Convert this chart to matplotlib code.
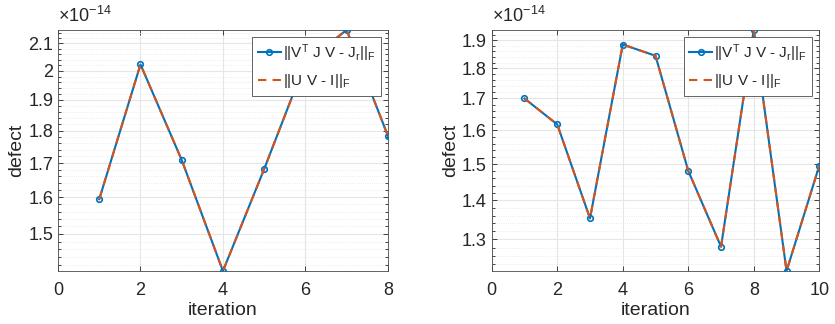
import numpy as np
import matplotlib.pyplot as plt
from matplotlib.ticker import FixedLocator, FuncFormatter, NullFormatter

plt.rcParams['font.family'] = ['Liberation Sans', 'DejaVu Sans']
plt.rcParams['mathtext.default'] = 'regular'

# defect values, in units of 1e-14
iter_a = [1, 2, 3, 4, 5, 6, 7, 8]
defect_a = [1.595, 2.023, 1.709, 1.405, 1.682, 2.03, 2.150, 1.784]
iter_b = [1, 2, 3, 4, 5, 6, 7, 8, 9, 10]
defect_b = [1.700, 1.618, 1.353, 1.884, 1.844, 1.481, 1.282, 1.937, 1.224, 1.496]

yticks_a = [1.5, 1.6, 1.7, 1.8, 1.9, 2.0, 2.1]
yticks_b = [1.3, 1.4, 1.5, 1.6, 1.7, 1.8, 1.9]
xticks_a = [0, 2, 4, 6, 8]
xticks_b = [0, 2, 4, 6, 8, 10]

label1 = '||V$^{T}$ J V - J$_{r}$||$_{F}$'
label2 = '||U V - I||$_{F}$'

blue = '#0072BD'
orange = '#D95319'
txt = '#262626'

fig = plt.figure(figsize=(8.35, 3.24), dpi=100)
ax1 = fig.add_axes([0.0695, 0.1636, 0.395, 0.744])
ax2 = fig.add_axes([0.5889, 0.1636, 0.3923, 0.744])

panels = [
    (ax1, iter_a, defect_a, xticks_a, yticks_a, 8),
    (ax2, iter_b, defect_b, xticks_b, yticks_b, 10),
]

for ax, x, y, xt, yt, xmax in panels:
    ax.plot(x, y, '-o', color=blue, lw=1.5, ms=4, mfc='none', mew=1.2,
            label=label1, zorder=3)
    ax.plot(x, y, '--', color=orange, lw=1.5, dashes=(4, 3),
            label=label2, zorder=4)
    ax.set_yscale('log')
    ax.set_xlim(0, xmax)
    ax.set_ylim(min(y), max(y))
    ax.set_xticks(xt)
    ax.yaxis.set_major_locator(FixedLocator(yt))
    ax.yaxis.set_major_formatter(FuncFormatter(lambda v, p: f'{v:g}'))
    lo, hi = min(y), max(y)
    minors = [m / 100 for m in range(100, 260, 2)]
    minors = [m for m in minors if lo <= m <= hi and round(m * 10, 6) % 1 != 0]
    ax.yaxis.set_minor_locator(FixedLocator(minors))
    ax.yaxis.set_minor_formatter(NullFormatter())
    ax.grid(True, which='major', color='#e6e6e6', lw=0.8)
    ax.grid(True, which='minor', axis='y', color='#e6e6e6', lw=0.6, ls=':')
    ax.set_axisbelow(True)
    ax.tick_params(which='both', direction='in', top=True, right=True,
                   labelsize=13, colors=txt, length=3.5, width=0.6)
    ax.tick_params(axis='x', pad=8)
    ax.tick_params(which='minor', length=2)
    for s in ax.spines.values():
        s.set_color('#4a4a4a')
        s.set_linewidth(0.6)
    ax.set_xlabel('iteration', fontsize=14, color=txt, labelpad=2)
    ax.set_ylabel('defect', fontsize=14, color=txt, labelpad=2)
    ax.text(0.0, 1.015, r'$\times$10$^{-14}$', transform=ax.transAxes,
            fontsize=13, color=txt, ha='left', va='bottom')
    leg = ax.legend(loc='upper right', fontsize=11, frameon=True, fancybox=False,
                    framealpha=1, edgecolor='#4a4a4a', handlelength=1.5,
                    borderpad=0.35, labelspacing=0.55, handletextpad=0.15,
                    borderaxespad=0.45)
    leg.get_frame().set_linewidth(0.6)
    for t in leg.get_texts():
        t.set_color(txt)

fig.savefig('out.png', dpi=100)
